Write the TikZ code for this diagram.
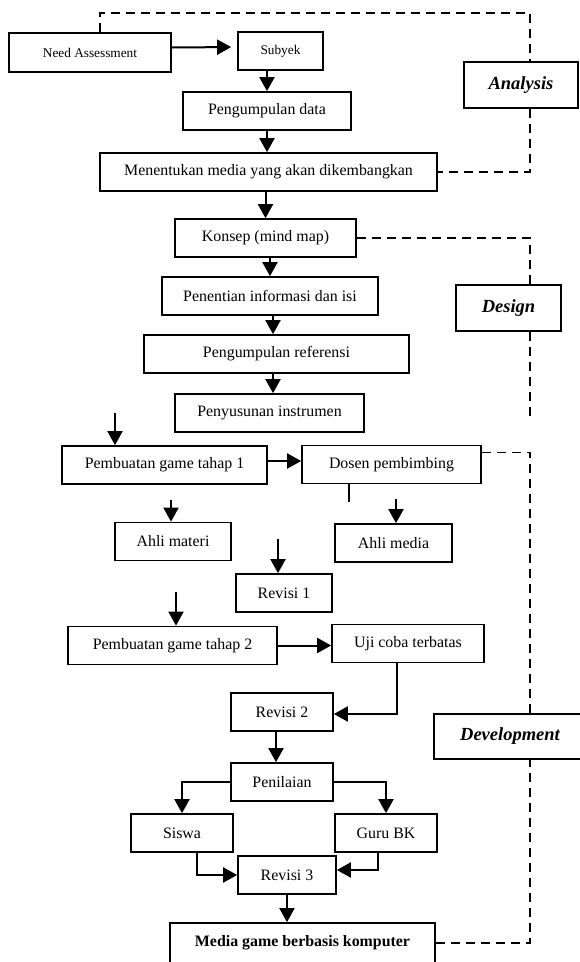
\documentclass[tikz,border=0pt]{standalone}
\usepackage{fontspec}
\setmainfont{Liberation Serif}
\usepackage{tikz}
\usetikzlibrary{arrows.meta,calc,positioning}
\definecolor{FlowInk}{HTML}{000000}
\newcommand{\bodysize}{\fontsize{15.9}{18}\selectfont}
\newcommand{\smallsize}{\fontsize{13.3}{15}\selectfont}
\newcommand{\phasesize}{\fontsize{18.5}{21}\selectfont}
\tikzset{
  stepbox/.style={draw=FlowInk,line width=1.7pt,minimum height=38pt,inner sep=0pt,align=center,font=\bodysize},
  smallbox/.style={stepbox,font=\smallsize},
  resultbox/.style={stepbox,minimum height=40pt,font=\bodysize\bfseries},
  phasebox/.style={stepbox,minimum height=46pt,font=\phasesize\bfseries\itshape},
  flowarrow/.style={-{Triangle[length=14pt,width=15pt]},line width=2pt,draw=FlowInk},
  plainline/.style={line width=1.7pt,draw=FlowInk},
  phaselink/.style={line width=1.8pt,draw=FlowInk,dash pattern=on 9pt off 6pt}
}

\begin{document}
\begin{tikzpicture}[x=1pt,y=-1pt]
  \useasboundingbox (0,0) rectangle (580,962);
  % analysis
  \node[smallbox,minimum width=162pt,minimum height=39pt] (needass) at (90,52.5) {Need Assessment};
  \node[smallbox,minimum width=85pt] (subyek) at (280.5,51) {Subyek};
  \node[stepbox,minimum width=168pt] (pengdata) at (267,111) {Pengumpulan data};
  \node[stepbox,minimum width=337pt] (menentukan) at (268.5,172) {Menentukan media yang akan dikembangkan};
  \node[phasebox,minimum width=114pt] (analysis) at (521,85) {Analysis};
  % design
  \node[stepbox,minimum width=181pt] (konsep) at (265.5,238) {Konsep (mind map)};
  \node[stepbox,minimum width=216pt] (penentian) at (270,296) {Penentian informasi dan isi};
  \node[stepbox,minimum width=265pt] (pengref) at (276.5,354) {Pengumpulan referensi};
  \node[stepbox,minimum width=189pt] (penyusunan) at (269.5,413) {Penyusunan instrumen};
  \node[phasebox,minimum width=105pt] (design) at (508.5,308) {Design};
  % development
  \node[stepbox,minimum width=205pt] (gametahap1) at (164.5,465) {Pembuatan game tahap 1};
  \node[stepbox,minimum width=179pt] (dosen) at (391.5,464.5) {Dosen pembimbing};
  \node[stepbox,minimum width=116pt] (ahlimateri) at (173,541.5) {Ahli materi};
  \node[stepbox,minimum width=117pt] (ahlimedia) at (393.5,543) {Ahli media};
  \node[stepbox,minimum width=96pt] (revisi1) at (284,593) {Revisi 1};
  \node[stepbox,minimum width=209pt] (gametahap2) at (172.5,645.5) {Pembuatan game tahap 2};
  \node[stepbox,minimum width=152pt] (ujicoba) at (408,643.5) {Uji coba terbatas};
  \node[stepbox,minimum width=102pt] (revisi2) at (282,712) {Revisi 2};
  \node[stepbox,minimum width=102pt] (penilaian) at (282,782) {Penilaian};
  \node[stepbox,minimum width=102pt] (siswa) at (182,833) {Siswa};
  \node[stepbox,minimum width=102pt] (gurubk) at (386,833) {Guru BK};
  \node[stepbox,minimum width=98pt] (revisi3) at (287,875) {Revisi 3};
  \node[resultbox,minimum width=265pt] (media) at (302.5,943) {Media game berbasis komputer};
  \node[phasebox,minimum width=152pt,minimum height=45pt] (development) at (510,736.5) {Development};

  \coordinate (rail) at (530,13);
  \coordinate (designend) at (530,417);
  \coordinate (gameinlet) at (115,413);

  \draw[flowarrow,shorten >=6pt] ([yshift=5pt]needass.east) -- ([yshift=4pt]subyek.west);
  \draw[flowarrow] (pengdata.north |- subyek.south) -- (pengdata.north);
  \draw[flowarrow] (pengdata.south) -- (pengdata.south |- menentukan.north);
  \draw[flowarrow] (konsep.north |- menentukan.south) -- (konsep.north);
  \draw[flowarrow] (penentian.north |- konsep.south) -- (penentian.north);
  \draw[flowarrow] ([xshift=3pt]penentian.south) -- ([xshift=3pt]penentian.south |- pengref.north);
  \draw[flowarrow] ([xshift=3.5pt]penyusunan.north |- pengref.south) -- ([xshift=3.5pt]penyusunan.north);
  \draw[flowarrow] (gameinlet) -- (gameinlet |- gametahap1.north);
  \draw[flowarrow] ([yshift=4pt]gametahap1.east) -- ([yshift=4pt]gametahap1.east -| dosen.west);
  \draw[plainline] ([xshift=-42.5pt]dosen.south) -- ++(0,18);
  \draw[flowarrow] ([xshift=-2pt,yshift=22pt]ahlimateri.north) -- ([xshift=-2pt]ahlimateri.north);
  \draw[flowarrow] ([xshift=2.5pt,yshift=24pt]ahlimedia.north) -- ([xshift=2.5pt]ahlimedia.north);
  \draw[flowarrow] ([xshift=-6pt,yshift=34pt]revisi1.north) -- ([xshift=-6pt]revisi1.north);
  \draw[flowarrow] ([xshift=3.5pt,yshift=34pt]gametahap2.north) -- ([xshift=3.5pt]gametahap2.north);
  \draw[flowarrow] (gametahap2.east) -- (gametahap2.east -| ujicoba.west);
  \draw[flowarrow] ([xshift=-11pt]ujicoba.south) |- ([yshift=-2pt]revisi2.east);
  \draw[flowarrow] ([xshift=-6pt]revisi2.south) -- ([xshift=-6pt]penilaian.north);
  \draw[flowarrow] (penilaian.west) -| (siswa.north);
  \draw[flowarrow] (penilaian.east) -| (gurubk.north);
  \draw[flowarrow] ([xshift=15pt]siswa.south) |- (revisi3.west);
  \draw[flowarrow] ([xshift=-8pt]gurubk.south) |- ([yshift=5pt]revisi3.east);
  \draw[flowarrow] (revisi3.south) -- (revisi3.south |- media.north);

  \draw[phaselink] ([xshift=10pt]needass.north) |- (rail) -- (rail |- analysis.north);
  \draw[phaselink] (rail |- analysis.south) |- (menentukan.east);
  \draw[phaselink] (konsep.east) -| (rail |- design.north);
  \draw[phaselink] (rail |- design.south) -- (designend);
  \draw[phaselink] ([yshift=12pt]dosen.east) -| (rail |- development.north);
  \draw[phaselink] (media.east) -| (rail |- development.south);
\end{tikzpicture}
\end{document}
